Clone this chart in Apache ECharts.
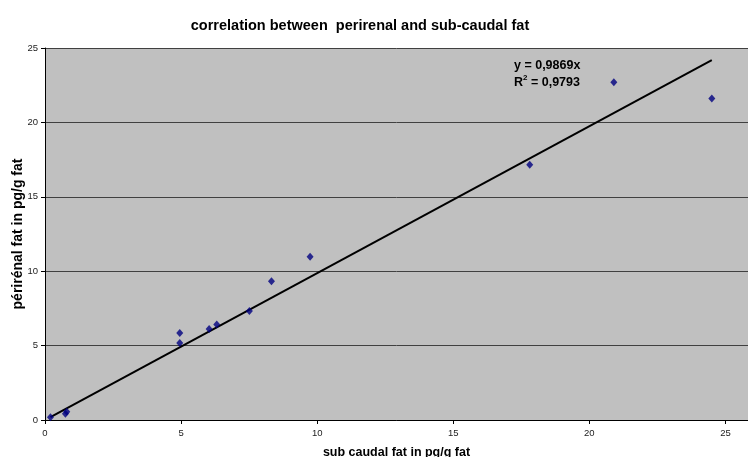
<!DOCTYPE html>
<html>
<head>
<meta charset="utf-8">
<script src="https://cdn.jsdelivr.net/npm/echarts@6/dist/echarts.min.js"></script>
<style>
  html, body { margin: 0; padding: 0; background: #fff; }
  #chart { width: 748px; height: 457px; }
</style>
</head>
<body>
<div id="chart"></div>
<script>
// sub caudal fat (x) vs perirenal fat (y), pg/g fat
const subCaudal = [0.2, 0.75, 0.8, 4.95, 4.95, 6.03, 6.31, 7.51, 8.32, 9.74, 17.81, 20.9, 24.5];
const perirenal = [0.18, 0.42, 0.55, 5.18, 5.85, 6.12, 6.41, 7.33, 9.33, 10.97, 17.16, 22.7, 21.6];
// trend line endpoints y = 0,9869x
const trendX = [0.2, 24.5];
const trendY = [0.2, 24.18];
const eqLines = ['y = 0,9869x', 'R{sup|2} = 0,9793'];

const points = subCaudal.map((x, i) => [x, perirenal[i]]);
const trend = trendX.map((x, i) => [x, trendY[i]]);

const myChart = echarts.init(document.getElementById('chart'));
const font = 'Arial, "Liberation Sans", sans-serif';

const option = {
  backgroundColor: '#fff',
  animation: false,
  title: {
    text: 'correlation between  perirenal and sub-caudal fat',
    left: 355,
    textAlign: 'center',
    top: 13,
    textStyle: { fontFamily: font, fontSize: 14.5, fontWeight: 'bold', color: '#000' }
  },
  grid: {
    left: 45,
    top: 48,
    right: 0,
    bottom: 37,
    outerBoundsMode: 'none',
    containLabel: false,
    show: true,
    backgroundColor: '#c0c0c0',
    borderWidth: 0
  },
  xAxis: {
    type: 'value',
    min: 0,
    max: 25.83,
    interval: 5,
    name: 'sub caudal fat in pg/g fat',
    nameLocation: 'middle',
    nameGap: 26,
    nameMoveOverlap: false,
    nameTextStyle: { fontFamily: font, fontSize: 12.5, fontWeight: 'bold', color: '#000' },
    axisLine: { show: true, onZero: false, lineStyle: { color: '#000', width: 1 } },
    axisTick: { show: true, length: 4, lineStyle: { color: '#000' } },
    axisLabel: { showMaxLabel: false, fontFamily: font, fontSize: 9.5, color: '#222', margin: 8 },
    splitLine: { show: false }
  },
  yAxis: {
    type: 'value',
    min: 0,
    max: 25,
    interval: 5,
    name: 'périrénal fat in pg/g fat',
    nameLocation: 'middle',
    nameGap: 20,
    nameMoveOverlap: false,
    nameTextStyle: { fontFamily: font, fontSize: 14, fontWeight: 'bold', color: '#000' },
    axisLine: { show: true, lineStyle: { color: '#000', width: 1 } },
    axisTick: { show: true, length: 4, lineStyle: { color: '#000' } },
    axisLabel: { fontFamily: font, fontSize: 9.5, color: '#222', margin: 7 },
    splitLine: { show: true, lineStyle: { color: '#404040', width: 1 } }
  },
  graphic: [
    {
      type: 'text',
      left: 514,
      top: 57,
      style: {
        text: eqLines.join('\n'),
        fontFamily: font,
        fontSize: 12.5,
        fontWeight: 'bold',
        fill: '#000',
        lineHeight: 17,
        rich: {
          sup: { fontSize: 8, fontWeight: 'bold', verticalAlign: 'top', padding: [0, 0, 7, 0] }
        }
      }
    }
  ],
  series: [
    {
      type: 'line',
      data: trend,
      symbol: 'none',
      lineStyle: { color: '#000', width: 2 },
      z: 2
    },
    {
      type: 'scatter',
      data: points,
      symbol: 'diamond',
      symbolSize: [7, 8],
      itemStyle: { color: '#000080' },
      z: 3
    }
  ]
};

myChart.setOption(option);
</script>
</body>
</html>
